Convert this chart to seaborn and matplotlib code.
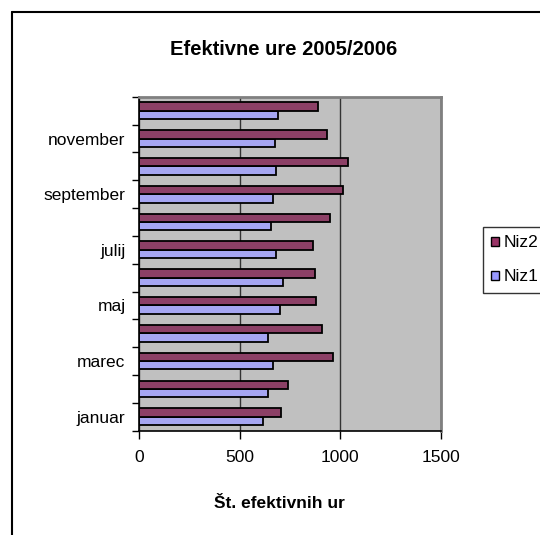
import numpy as np
import pandas as pd
import matplotlib
matplotlib.use("Agg")
import matplotlib.pyplot as plt
from matplotlib.patches import Patch
from matplotlib.lines import Line2D
import seaborn as sns

# podatki (odčitani z grafa)
meseci = ["januar", "februar", "marec", "april", "maj", "junij",
          "julij", "avgust", "september", "oktober", "november", "december"]
niz1 = [615, 640, 665, 640, 698, 715, 682, 657, 665, 682, 673, 690]
niz2 = [707, 740, 965, 907, 882, 873, 865, 948, 1015, 1040, 932, 890]
oznake_y = ["januar", "marec", "maj", "julij", "september", "november"]
x_ticks = [0, 500, 1000, 1500]

barve = {"Niz1": "#9999FF", "Niz2": "#993366"}

df = pd.DataFrame({
    "Mesec": meseci * 2,
    "Ure": niz1 + niz2,
    "Niz": ["Niz1"] * len(meseci) + ["Niz2"] * len(meseci),
})

sns.set_style("white")
plt.rcParams["font.family"] = ["Liberation Sans", "DejaVu Sans"]
plt.rcParams["text.color"] = "black"
plt.rcParams["xtick.color"] = "black"
plt.rcParams["ytick.color"] = "black"
plt.rcParams["axes.labelcolor"] = "black"

fig = plt.figure(figsize=(5.4, 5.35), dpi=100)
ax = fig.add_axes([0.258, 0.195, 0.558, 0.624])
ax.set_facecolor("#C0C0C0")

sns.barplot(data=df, x="Ure", y="Mesec", hue="Niz", order=meseci,
            hue_order=["Niz1", "Niz2"], palette=barve, orient="h",
            edgecolor="black", linewidth=1.3, width=0.6, legend=False,
            ax=ax)

ax.set_xlim(0, 1500)
ax.set_ylim(-0.5, len(meseci) - 0.5)
ax.set_xticks(x_ticks)
ax.set_xticklabels([str(v) for v in x_ticks], fontsize=12.5)
ax.set_yticks([meseci.index(m) for m in oznake_y])
ax.set_yticklabels(oznake_y, fontsize=12.5)
ax.set_yticks(np.arange(-0.5, len(meseci), 1), minor=True)
ax.tick_params(axis="y", which="major", length=0, pad=10)
ax.tick_params(axis="y", which="minor", length=5, width=1, color="black",
               direction="out", left=True)
ax.tick_params(axis="x", length=6, width=1, color="black", direction="out",
               bottom=True, pad=8)
ax.set_xlabel("")
ax.set_ylabel("")

ax.set_axisbelow(True)
ax.grid(axis="x", color="#333333", linewidth=1)
ax.grid(axis="y", visible=False)

for s in ["left", "bottom"]:
    ax.spines[s].set_color("black")
    ax.spines[s].set_linewidth(1.2)
for s in ["top", "right"]:
    ax.spines[s].set_color("#808080")
    ax.spines[s].set_linewidth(2)

fig.text(0.526, 0.897, "Efektivne ure 2005/2006", ha="center",
         va="baseline", fontsize=14.5, fontweight="bold", color="black")
fig.text(0.517, 0.0505, "Št. efektivnih ur", ha="center", va="baseline",
         fontsize=12.5, fontweight="bold", color="black")

# legenda (Niz2 zgoraj)
ročaji = [Patch(facecolor=barve["Niz2"], edgecolor="black", label="Niz2"),
          Patch(facecolor=barve["Niz1"], edgecolor="black", label="Niz1")]
leg = fig.legend(handles=ročaji, loc="upper left",
                 bbox_to_anchor=(482.7 / 540, 1 - 226.7 / 535),
                 fontsize=12.5, frameon=True, fancybox=False,
                 handlelength=0.45, handleheight=0.45, handletextpad=0.25,
                 labelspacing=1.1, borderpad=0.5, borderaxespad=0)
leg.get_frame().set_edgecolor("black")
leg.get_frame().set_linewidth(1)

# okvir grafikona
fig.add_artist(Line2D([12 / 540, 12 / 540], [0, 1 - 12 / 535],
                      color="black", linewidth=1.5))
fig.add_artist(Line2D([12 / 540, 1], [1 - 12 / 535, 1 - 12 / 535],
                      color="black", linewidth=1.5))

fig.savefig("out.png", dpi=100)
